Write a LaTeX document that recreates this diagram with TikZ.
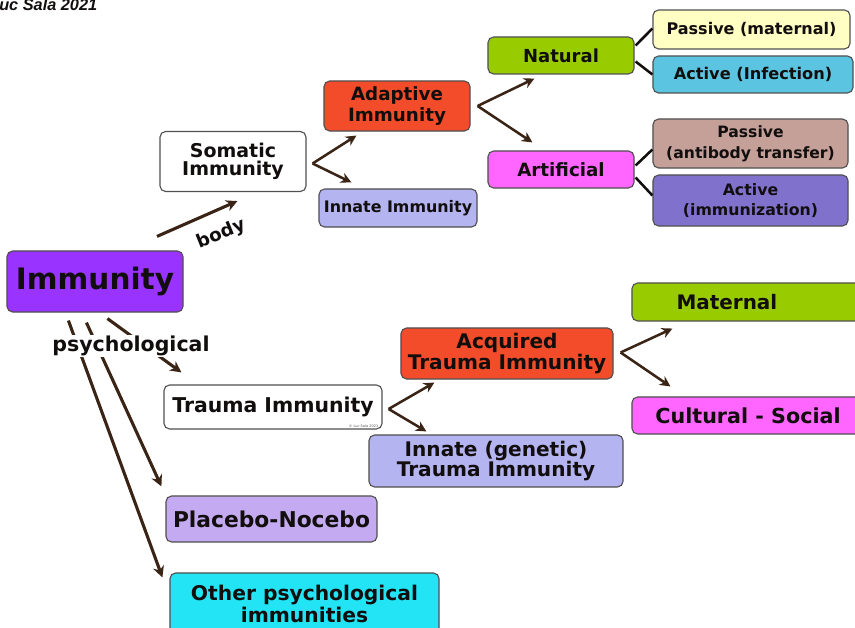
\documentclass[tikz,border=0pt]{standalone}
\usepackage{fontspec}
\setmainfont{DejaVu Sans}
\setsansfont{DejaVu Sans}
\newfontfamily\credfont{Liberation Sans}
\usetikzlibrary{arrows.meta, positioning, calc}
\definecolor{cRoot}{RGB}{153, 51, 255}
\definecolor{cPlain}{RGB}{255, 255, 255}
\definecolor{cAdapt}{RGB}{242, 76, 42}
\definecolor{cInnate}{RGB}{180, 180, 240}
\definecolor{cNatural}{RGB}{153, 204, 0}
\definecolor{cArtif}{RGB}{255, 102, 255}
\definecolor{cPasMat}{RGB}{255, 255, 196}
\definecolor{cActInf}{RGB}{91, 196, 224}
\definecolor{cPasAb}{RGB}{196, 160, 152}
\definecolor{cActImm}{RGB}{128, 114, 204}
\definecolor{cPlacebo}{RGB}{196, 170, 240}
\definecolor{cOther}{RGB}{34, 228, 244}
\definecolor{bBox}{RGB}{80, 80, 80}
\definecolor{tDark}{RGB}{18, 14, 14}
\definecolor{aBrown}{RGB}{58, 36, 22}
\newcommand{\boxfont}[2]{\fontsize{#1}{#2}\selectfont\bfseries}

\begin{document}
\begin{tikzpicture}[
    x=0.025cm, y=-0.025cm,
    font=\bfseries,
    block/.style={
        fill=#1,
        draw=bBox,
        line width=0.8pt,
        rounded corners=4pt,
        align=center,
        inner sep=2pt,
        text=tDark
    },
    arrow/.style={-{Stealth[length=8pt,width=8pt]}, line width=2.2pt, color=aBrown},
    fork/.style={-{Stealth[length=7.5pt,width=7.5pt]}, line width=1.8pt, color=aBrown},
    link/.style={line width=1.8pt, color=tDark}
]
\useasboundingbox (0,0) rectangle (855,628);
\clip (0,0) rectangle (855,628);

\node[anchor=base west, inner sep=0pt, text=tDark, font=\credfont\bfseries\itshape\fontsize{11.6}{12}\selectfont] (credit) at (-1,10.5) {uc Sala 2021};

% Root
\node[block=cRoot, minimum width=4.4cm, minimum height=1.525cm, font=\boxfont{21}{24}] (immun) at (95,281.5) {Immunity};

% Body branch
\node[block=cPlain, minimum width=3.65cm, minimum height=1.5cm, font=\boxfont{13.5}{13}] (soma) at (233,161.5) {Somatic\\Immunity};
\node[block=cAdapt, minimum width=3.65cm, minimum height=1.25cm, font=\boxfont{13}{15.5}] (adapt) at (397,106) {Adaptive\\Immunity};
\node[block=cInnate, minimum width=3.95cm, minimum height=0.95cm, font=\boxfont{11.3}{13}] (innate) at (398,208) {Innate Immunity};
\node[block=cNatural, minimum width=3.65cm, minimum height=0.925cm, font=\boxfont{12.8}{14}] (natural) at (561,55.5) {Natural};
\node[block=cArtif, minimum width=3.65cm, minimum height=0.925cm, font=\boxfont{13}{14}] (artif) at (561,169.5) {Artificial};
\node[block=cPasMat, minimum width=4.925cm, minimum height=0.975cm, font=\boxfont{11.4}{13}] (pasmat) at (751.5,29.5) {Passive (maternal)};
\node[block=cActInf, minimum width=5cm, minimum height=0.925cm, font=\boxfont{11.5}{13}] (actinf) at (753,74.5) {Active (Infection)};
\node[block=cPasAb, minimum width=4.875cm, minimum height=1.225cm, font=\boxfont{11.1}{15}] (pasab) at (750.5,143.5) {Passive\\(antibody transfer)};
\node[block=cActImm, minimum width=4.875cm, minimum height=1.275cm, font=\boxfont{11.2}{14.5}] (actimm) at (750.5,200.5) {Active\\(immunization)};

% Psychological branch
\node[block=cPlain, minimum width=5.45cm, minimum height=1.1cm, font=\boxfont{14.5}{16}] (trauma) at (273,407) {Trauma Immunity};
\node[anchor=south east, inner sep=0pt, text=tDark!70, font=\fontsize{2.5}{3}\selectfont] (copy) at ($(trauma.south east)+(-4,-2)$) {© Luc Sala 2021};
\node[block=cAdapt, minimum width=5.3cm, minimum height=1.275cm, font=\boxfont{14.3}{15}] (acq) at (507,353.5) {Acquired\\Trauma Immunity};
\node[block=cInnate, minimum width=6.35cm, minimum height=1.3cm, font=\boxfont{14.3}{14.5}] (innTr) at (496,461) {Innate (genetic)\\Trauma Immunity};
\node[block=cNatural, minimum width=5.8cm, minimum height=0.95cm, font=\boxfont{14.2}{15}] (matern) at (748,302) {Maternal\hspace*{30pt}};
\node[block=cArtif, minimum width=5.8cm, minimum height=0.925cm, font=\boxfont{14.7}{15}] (cult) at (748,415.5) {Cultural - Social};
\node[block=cPlacebo, minimum width=5.275cm, minimum height=1.15cm, font=\boxfont{15.5}{16}] (placebo) at (271.5,519) {Placebo-Nocebo};
\node[block=cOther, minimum width=6.725cm, minimum height=1.55cm, font=\boxfont{14.4}{15.6}] (other) at (304.5,604) {Other psychological\\immunities};

% Arrows from the root
\draw[arrow] ($(immun.north)+(62,-14)$) -- ($(soma.south west)+(78,9)$);
\node[rotate=22, text=tDark, font=\boxfont{13}{14}] (body) at (221,234) {body};
\draw[arrow] ($(immun.south west)+(62,8)$) -- ($(other.north west)+(-7,5)$);
\draw[arrow] ($(immun.south west)+(80,10)$) -- ($(placebo.north west)+(-4,-9)$);
\draw[arrow] ($(immun.south west)+(101,6)$) -- ($(trauma.north west)+(18,-12)$);
\node[fill=white, inner sep=1pt, text=tDark, font=\boxfont{14.6}{15}] (psych) at (131,346) {psychological};

% Forks
\coordinate (sVert) at ($(soma.east)+(6,2)$);
\draw[fork] (sVert) -- ($(adapt.south west)+(33,4)$);
\draw[fork] (sVert) -- ($(innate.north west)+(33,-6)$);

\coordinate (aVert) at ($(adapt.east)+(7,0)$);
\draw[fork] (aVert) -- ($(natural.south west)+(47,4)$);
\draw[fork] (aVert) -- ($(artif.north west)+(45,-8)$);

\draw[link] ($(natural.east)+(1,-10)$) -- ($(pasmat.west)+(0,-1)$);
\draw[link] ($(natural.east)+(1,6)$) -- (actinf.west);
\draw[link] ($(artif.east)+(1,-4)$) -- ($(pasab.west)+(0,6)$);
\draw[link] ($(artif.east)+(1,8)$) -- ($(actimm.west)+(0,-5)$);

\coordinate (tVert) at ($(trauma.east)+(6,2)$);
\draw[fork] (tVert) -- ($(acq.south west)+(34,3)$);
\draw[fork] (tVert) -- ($(innTr.north west)+(58,-3)$);

\coordinate (qVert) at ($(acq.east)+(7,-1)$);
\draw[fork] (qVert) -- ($(matern.south west)+(41,7)$);
\draw[fork] (qVert) -- ($(cult.north west)+(39,-10)$);

\end{tikzpicture}
\end{document}
